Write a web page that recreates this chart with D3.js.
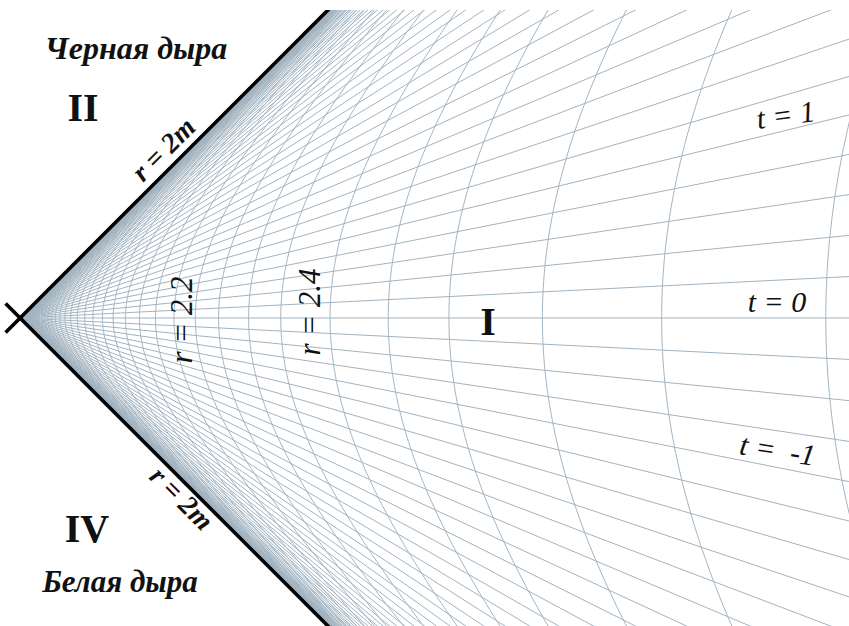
<!DOCTYPE html>
<html>
<head>
<meta charset="utf-8">
<script src="https://cdn.jsdelivr.net/npm/d3@7"></script>
<style>
  body { margin: 0; background: #fff; }
  text { font-family: "Liberation Serif", "Times New Roman", serif; fill: #111; }
</style>
</head>
<body>
<svg id="chart" width="849" height="626"></svg>
<script>
// Schwarzschild mass; the horizon sits at r = 2M
const M = 1;

// r = const curves (Schwarzschild radius), crowding towards the horizon
const radii = [
  2.0001, 2.00012, 2.00015, 2.0002, 2.00025, 2.00032, 2.0004, 2.00051, 2.00065,
  2.00082, 2.00104, 2.00132, 2.00168, 2.00213, 2.00271, 2.00344, 2.00437,
  2.00555, 2.00704, 2.00894, 2.01136, 2.0144, 2.0183, 2.0233, 2.0296, 2.0375,
  2.0477, 2.0605, 2.0769, 2.0976, 2.124, 2.1575,
  2.2, 2.25, 2.32, 2.4, 2.53, 2.69, 2.86, 3.12, 3.44, 3.85
];

// t = const lines: coordinate time grid
const tStep = 0.2;
const tMax = 14;
const times = d3.range(-tMax, tMax + 1e-9, tStep);

// Labelled curves
const rLabels = [2.2, 2.4];
const tLabels = [1, 0, -1];

const W = 849, H = 626;
const svg = d3.select("#chart");

// Kruskal–Szekeres coordinates (U horizontal, V vertical)
const x = d3.scaleLinear().domain([0, 2.6]).range([20, 20 + 2.6 * 320]);
const y = d3.scaleLinear().domain([-1, 1]).range([318 + 320, 318 - 320]);

const U0 = r => Math.sqrt(r / (2 * M) - 1) * Math.exp(r / (4 * M));

svg.append("defs").append("clipPath").attr("id", "plot")
  .append("rect").attr("x", 0).attr("y", 10).attr("width", W).attr("height", H - 10);

const grid = svg.append("g").attr("clip-path", "url(#plot)")
  .attr("fill", "none").attr("stroke", "#a2b3c0").attr("stroke-width", 1);

const line = d3.line().x(d => x(d[0])).y(d => y(d[1]));

// hyperbolae r = const
radii.forEach(r => {
  const u0 = U0(r);
  const etaMax = Math.acosh(4 / u0);
  const pts = d3.range(-etaMax, etaMax + 1e-9, etaMax / 300)
    .map(e => [u0 * Math.cosh(e), u0 * Math.sinh(e)]);
  grid.append("path").attr("d", line(pts));
});

// rays t = const
times.forEach(t => {
  const k = Math.tanh(t / (4 * M));
  grid.append("path").attr("d", line([[0, 0], [3, 3 * k]]));
});

// horizons r = 2M
const hz = svg.append("g").attr("clip-path", "url(#plot)")
  .attr("stroke", "#000").attr("stroke-width", 3.6).attr("fill", "none");
hz.append("path").attr("d", line([[-0.045, -0.045], [1.2, 1.2]]));
hz.append("path").attr("d", line([[-0.045, 0.045], [1.2, -1.2]]));

// captions
const add = (txt, px, py, size, opts = {}) => svg.append("text")
  .attr("transform", `translate(${px},${py}) rotate(${opts.rot || 0})`)
  .attr("text-anchor", opts.anchor || "middle")
  .attr("font-size", size)
  .attr("font-weight", opts.bold ? "bold" : "normal")
  .attr("font-style", opts.italic ? "italic" : "normal")
  .style("white-space", "pre")
  .text(txt);

add("Черная дыра", 136, 59, 32, { bold: true, italic: true });
add("II", 83, 121, 40, { bold: true });
add("r = 2m", 170, 156, 28, { bold: true, italic: true, rot: -45 });
add("IV", 87, 542, 40, { bold: true });
add("Белая дыра", 120, 592, 31, { bold: true, italic: true });
add("r = 2m", 175, 505, 28, { bold: true, italic: true, rot: 45 });
add("I", 488, 335, 40, { bold: true });

// r labels, written along their curves
add(`r = ${rLabels[0]}`, 192, 320, 31, { italic: true, rot: -90 });
add(`r = ${rLabels[1]}`, 320, 312, 31, { italic: true, rot: -90 });

// t labels
add(`t = ${tLabels[0]}`, 787, 125, 30, { italic: true, rot: -8 });
add(`t = ${tLabels[1]}`, 777, 312, 30, { italic: true });
add(`t =  ${tLabels[2]}`, 776, 460, 30, { italic: true, rot: 9 });
</script>
</body>
</html>
